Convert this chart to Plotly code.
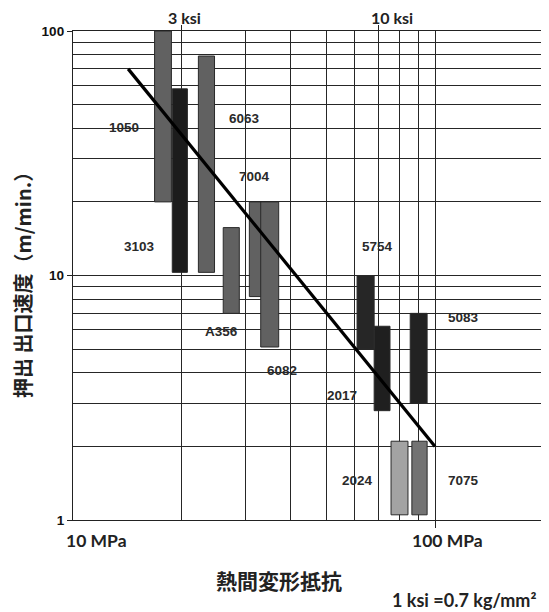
import math
import plotly.graph_objects as go

# ---- data ----
alloys = ["1050", "3103", "6063", "A356", "7004", "6082", "5754", "2017", "5083", "2024", "7075"]
stress_lo = [16.8, 18.8, 22.2, 26.0, 30.7, 33.0, 60.9, 67.9, 85.4, 75.6, 86.3]   # MPa
stress_hi = [18.7, 20.7, 24.6, 28.8, 33.8, 37.0, 67.9, 75.1, 95.1, 84.2, 95.1]   # MPa
speed_lo = [20, 10.3, 10.3, 7.0, 8.2, 5.1, 5.0, 2.8, 3.0, 1.05, 1.05]           # m/min
speed_hi = [100, 58, 79, 15.7, 20, 20, 10, 6.2, 7.0, 2.1, 2.1]                   # m/min
bar_colors = ["#616161", "#1c1c1c", "#616161", "#616161", "#616161", "#616161",
              "#262626", "#1f1f1f", "#222222", "#a3a3a3", "#737373"]

trend_stress = [14.2, 100]
trend_speed = [70, 2.0]

label_stress = [13.8, 15.3, 29.8, 25.7, 31.7, 37.9, 69.2, 55.4, 120.2, 61.0, 120.2]
label_speed = [40.2, 13.1, 43.8, 5.91, 25.4, 4.10, 13.1, 3.24, 6.74, 1.456, 1.456]

ksi_labels = ["3 ksi", "10 ksi"]
ksi_tick_mpa = [20, 70]
ksi_label_mpa = [20.35, 76.1]

mpa_labels = ["10 MPa", "100 MPa"]
mpa_label_pos = [11.6, 108]

y_ticks = [1, 10, 100]

fig = go.Figure()

for i, name in enumerate(alloys):
    x0, x1 = stress_lo[i], stress_hi[i]
    y0, y1 = speed_lo[i], speed_hi[i]
    fig.add_trace(go.Scatter(
        x=[x0, x1, x1, x0, x0], y=[y0, y0, y1, y1, y0],
        mode="lines", fill="toself", fillcolor=bar_colors[i],
        line=dict(color="#2a2a2a", width=1), showlegend=False, hoverinfo="skip"))

fig.add_trace(go.Scatter(x=trend_stress, y=trend_speed, mode="lines",
                         line=dict(color="black", width=3.2), showlegend=False))

# invisible trace on the top axis
fig.add_trace(go.Scatter(x=[50], y=[10], xaxis="x2", mode="markers",
                         marker=dict(opacity=0), showlegend=False, hoverinfo="skip"))

grid_col = "#262626"
# the page body has an 8px margin: shrink the figure so the plot area lands where it should
fig.update_layout(
    width=541, height=604,
    margin=dict(l=65, r=5, t=23, b=92),
    paper_bgcolor="white", plot_bgcolor="white",
    xaxis=dict(type="log", range=[1, math.log10(200)],
               tickvals=[100], ticktext=[""], ticks="outside", ticklen=7,
               tickcolor="#222", showgrid=False,
               minor=dict(dtick="D1", showgrid=True, gridcolor=grid_col, gridwidth=1.3, ticks=""),
               showline=True, linecolor="#222", linewidth=1.3, mirror=True, zeroline=False),
    xaxis2=dict(type="log", range=[1, math.log10(200)], overlaying="x", side="top",
                tickvals=ksi_tick_mpa, ticktext=["", ""], ticks="outside", ticklen=5,
                tickcolor="#222", showgrid=False, showline=False),
    yaxis=dict(type="log", range=[0, 2], tickvals=y_ticks,
               ticktext=["<b>%d</b>" % v for v in y_ticks],
               ticks="outside", ticklen=5, tickcolor="#222", showgrid=True,
               gridcolor=grid_col, gridwidth=1.3,
               minor=dict(dtick="D1", showgrid=True, gridcolor=grid_col, gridwidth=1.3, ticks=""),
               tickfont=dict(family="Liberation Sans", size=13.5, color="#111"),
               showline=True, linecolor="#222", linewidth=1.3, mirror=True, zeroline=False),
    font=dict(family="Liberation Sans"),
)

annots = []
for i, name in enumerate(alloys):
    annots.append(dict(x=math.log10(label_stress[i]), y=math.log10(label_speed[i]),
                       xref="x", yref="y", text="<b>%s</b>" % name, showarrow=False,
                       xanchor="center", yanchor="middle",
                       font=dict(family="Liberation Sans", size=13.5, color="#2a2a2a")))
for t, xv in zip(ksi_labels, ksi_label_mpa):
    annots.append(dict(x=math.log10(xv), y=1.0286, xref="x", yref="paper", text="<b>%s</b>" % t,
                       xanchor="center", yanchor="middle",
                       showarrow=False, font=dict(family="Lato", size=16, color="#222")))
for t, xv in zip(mpa_labels, mpa_label_pos):
    annots.append(dict(x=math.log10(xv), y=-0.041, xref="x", yref="paper", text="<b>%s</b>" % t,
                       xanchor="center", yanchor="middle",
                       showarrow=False, font=dict(family="Lato", size=17.5, color="#222")))
annots.append(dict(x=0.437, y=-0.1227, xref="paper", yref="paper", text="<b>熱間変形抵抗</b>",
                   xanchor="center", yanchor="middle",
                   showarrow=False, font=dict(family="Noto Sans CJK JP", size=21, color="#222")))
annots.append(dict(x=0.987, y=-0.1636, xref="paper", yref="paper", xanchor="right", yanchor="middle",
                   text="<b>1 ksi =0.7 kg/mm²</b>",
                   showarrow=False, font=dict(family="Lato", size=18, color="#222")))
annots.append(dict(x=-0.106, y=0.491, xref="paper", yref="paper", textangle=-90,
                   xanchor="center", yanchor="middle",
                   text="<b>押出 出口速度（m/min.）</b>",
                   showarrow=False, font=dict(family="Noto Sans CJK JP", size=20, color="#222")))
fig.update_layout(annotations=annots)

fig.write_html("out.html")
